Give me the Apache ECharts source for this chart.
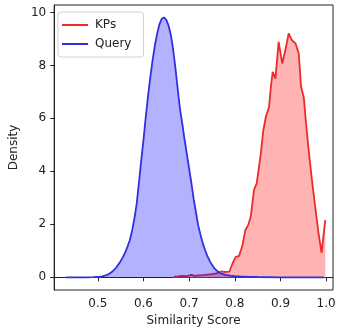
<!DOCTYPE html>
<html>
<head>
<meta charset="utf-8">
<script src="https://cdn.jsdelivr.net/npm/echarts@6/dist/echarts.min.js"></script>
<style>
  html, body { margin: 0; padding: 0; background: #fff; }
  #chart { width: 339px; height: 332px; }
</style>
</head>
<body>
<div id="chart"></div>
<script>
// KPs similarity density (red)
var kpsX = [0.667, 0.675, 0.685, 0.695, 0.705, 0.712, 0.72, 0.73, 0.74, 0.75, 0.76, 0.77, 0.778, 0.788, 0.795,
  0.802, 0.809, 0.816, 0.823, 0.83, 0.835, 0.842, 0.848, 0.857, 0.862, 0.868, 0.875, 0.879, 0.883, 0.889,
  0.896, 0.904, 0.911, 0.918, 0.925, 0.933, 0.94, 0.945, 0.951, 0.956, 0.961, 0.968, 0.976, 0.983, 0.99, 0.998]
var kpsY = [0.02, 0.03, 0.05, 0.04, 0.09, 0.05, 0.07, 0.08, 0.1, 0.12, 0.15, 0.22, 0.2, 0.21, 0.52,
  0.77, 0.8, 1.15, 1.78, 2.0, 2.3, 3.3, 3.55, 4.68, 5.5, 6.06, 6.44, 7.2, 7.76, 7.5,
  8.89, 8.07, 8.6, 9.21, 8.95, 8.83, 8.45, 7.2, 6.8, 5.8, 4.93, 3.8, 2.66, 1.7, 0.92, 2.16]

// Query similarity density (blue)
var queryX = [0.43, 0.45, 0.47, 0.49, 0.5, 0.505, 0.51, 0.515, 0.52, 0.525, 0.53, 0.535, 0.54, 0.545, 0.55,
  0.555, 0.56, 0.565, 0.57, 0.575, 0.58, 0.585, 0.59, 0.595, 0.6, 0.605, 0.61, 0.615, 0.62, 0.625,
  0.63, 0.635, 0.64, 0.645, 0.65, 0.655, 0.66, 0.665, 0.67, 0.675, 0.68, 0.685, 0.69, 0.695, 0.7,
  0.705, 0.71, 0.715, 0.72, 0.725, 0.73, 0.735, 0.74, 0.745, 0.75, 0.755, 0.76, 0.765, 0.77, 0.78,
  0.79, 0.8, 0.81, 0.83, 0.85, 0.9, 0.95, 0.995]
var queryY = [0, 0, 0, 0.005, 0.01, 0.02, 0.035, 0.06, 0.09, 0.13, 0.19, 0.27, 0.36, 0.48, 0.61,
  0.76, 0.94, 1.15, 1.4, 1.75, 2.2, 2.75, 3.55, 4.4, 5.18, 6.05, 6.85, 7.55, 8.2, 8.75,
  9.2, 9.55, 9.76, 9.81, 9.72, 9.5, 9.15, 8.6, 7.9, 7.1, 6.35, 5.8, 5.2, 4.65, 4.1,
  3.55, 2.95, 2.45, 1.95, 1.6, 1.28, 1.02, 0.8, 0.62, 0.47, 0.35, 0.26, 0.19, 0.14, 0.09,
  0.06, 0.04, 0.03, 0.015, 0.01, 0, 0, 0]

var xTicks = [0.5, 0.6, 0.7, 0.8, 0.9, 1.0]
var yTicks = [0, 2, 4, 6, 8, 10]

function pairs(xs, ys) {
  return xs.map(function (x, i) { return [x, ys[i]] })
}

var font = 'DejaVu Sans'
var chart = echarts.init(document.getElementById('chart'), null, { renderer: 'canvas' })

chart.setOption({
  animation: false,
  backgroundColor: '#fff',
  grid: {
    left: 52,
    right: 6,
    top: 5,
    bottom: 42,
    show: true,
    borderColor: '#222',
    borderWidth: 1
  },
  legend: {
    left: 58,
    top: 12,
    orient: 'vertical',
    icon: 'path://M0,0 H26 V2 H0 Z',
    itemWidth: 26,
    itemHeight: 2,
    itemGap: 7,
    padding: [7, 12, 7, 4],
    borderColor: '#d0d0d0',
    borderWidth: 1,
    borderRadius: 3,
    backgroundColor: '#fff',
    textStyle: { fontFamily: font, fontSize: 12, color: '#222', padding: [0, 0, 0, 2] },
    data: ['KPs', 'Query']
  },
  xAxis: {
    type: 'value',
    min: 0.4045,
    max: 1.015,
    name: 'Similarity Score',
    nameLocation: 'middle',
    nameGap: 25,
    nameTextStyle: { fontFamily: font, fontSize: 12, color: '#222' },
    splitLine: { show: false },
    axisLine: { show: true, lineStyle: { color: '#222', width: 1 } },
    axisTick: { show: true, inside: false, length: 4, customValues: xTicks, lineStyle: { color: '#222' } },
    axisLabel: {
      customValues: xTicks,
      margin: 8,
      fontFamily: font,
      fontSize: 12,
      color: '#222',
      formatter: function (v) { return v.toFixed(1) }
    }
  },
  yAxis: {
    type: 'value',
    min: -0.48,
    max: 10.28,
    name: 'Density',
    nameLocation: 'middle',
    nameGap: 31,
    nameTextStyle: { fontFamily: font, fontSize: 12, color: '#222' },
    splitLine: { show: false },
    axisLine: { show: true, lineStyle: { color: '#222', width: 1 } },
    axisTick: { show: true, inside: false, length: 4, customValues: yTicks, lineStyle: { color: '#222' } },
    axisLabel: {
      customValues: yTicks,
      margin: 8,
      fontFamily: font,
      fontSize: 12,
      color: '#222',
      formatter: function (v) { return String(v) }
    }
  },
  series: [{
    name: 'KPs',
    type: 'line',
    data: pairs(kpsX, kpsY),
    showSymbol: false,
    symbol: 'none',
    itemStyle: { color: '#ee2b2b' },
    lineStyle: { color: '#ee2b2b', width: 1.8 },
    areaStyle: { color: '#ffb3b3', opacity: 1 },
    z: 2
  }, {
    name: 'Query',
    type: 'line',
    data: pairs(queryX, queryY),
    showSymbol: false,
    symbol: 'none',
    itemStyle: { color: '#3030dd' },
    lineStyle: { color: '#3030dd', width: 1.8 },
    areaStyle: { color: '#0000ff', opacity: 0.3 },
    z: 3
  }]
})
</script>
</body>
</html>
